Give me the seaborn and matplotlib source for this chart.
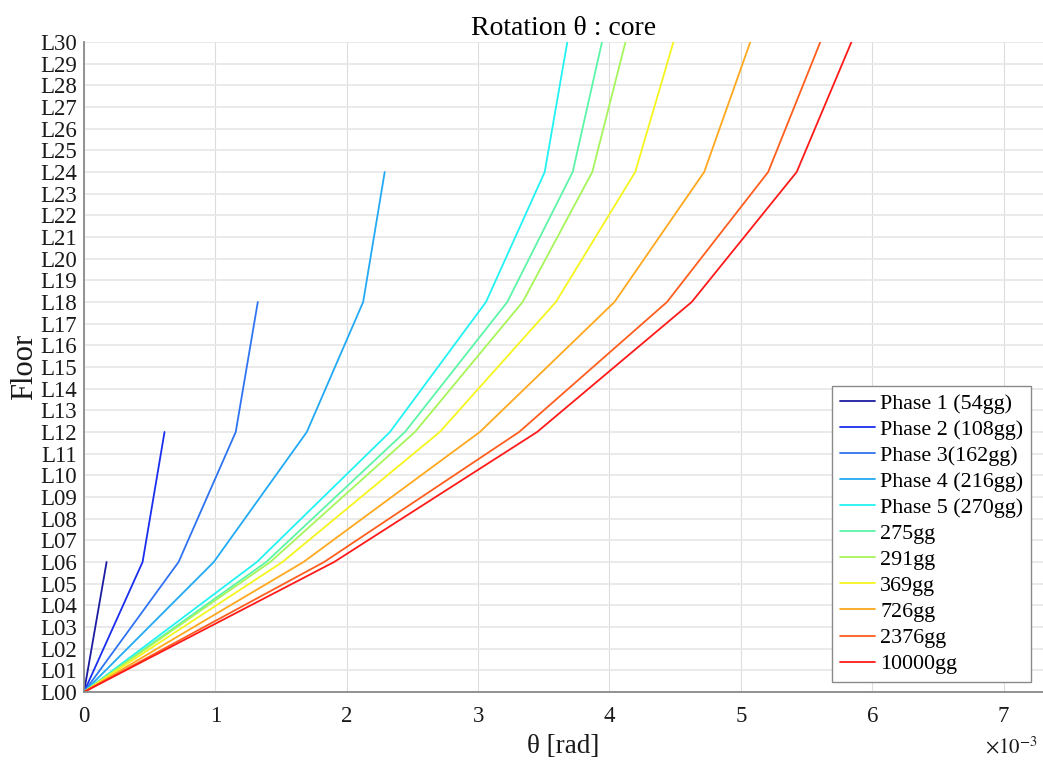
import numpy as np
import pandas as pd
import matplotlib
matplotlib.use("Agg")
import matplotlib.pyplot as plt
import seaborn as sns

# ---- data (theta in units of 1e-3 rad, floors as level index) ----
series_names = ["Phase 1 (54gg)", "Phase 2 (108gg)", "Phase 3(162gg)", "Phase 4 (216gg)",
                "Phase 5 (270gg)", "275gg", "291gg", "369gg", "726gg", "2376gg", "10000gg"]
floor_levels = [0, 6, 12, 18, 24, 30]
phase1 = [0.0, 0.172]
phase2 = [0.0, 0.446, 0.613]
phase3 = [0.0, 0.720, 1.155, 1.323]
phase4 = [0.0, 0.988, 1.696, 2.125, 2.289]
phase5 = [0.0, 1.316, 2.329, 3.060, 3.507, 3.679]
gg275 = [0.0, 1.387, 2.443, 3.222, 3.720, 3.943]
gg291 = [0.0, 1.418, 2.519, 3.339, 3.869, 4.122]
gg369 = [0.0, 1.511, 2.708, 3.592, 4.196, 4.487]
gg726 = [0.0, 1.671, 3.013, 4.038, 4.721, 5.072]
gg2376 = [0.0, 1.828, 3.312, 4.438, 5.208, 5.605]
gg10000 = [0.0, 1.904, 3.449, 4.626, 5.425, 5.842]
floor_labels = [f"L{i:02d}" for i in range(31)]
x_ticks = [0, 1, 2, 3, 4, 5, 6, 7]

colors = ["#1c1ca0", "#1a2ef0", "#2f74f2", "#22aaf5", "#22f2f2", "#5cf5a8",
          "#a6f55a", "#f5f51e", "#ffa81e", "#ff5e1e", "#ff1a1a"]

all_series = [phase1, phase2, phase3, phase4, phase5, gg275, gg291, gg369, gg726, gg2376, gg10000]
rows = []
for name, vals in zip(series_names, all_series):
    for i, v in enumerate(vals):
        rows.append({"series": name, "theta": v, "floor": floor_levels[i], "order": i})
df = pd.DataFrame(rows)

sns.set_theme(style="white")
plt.rcParams["font.family"] = ["Liberation Serif", "DejaVu Serif"]
plt.rcParams["mathtext.fontset"] = "stix"

fig = plt.figure(figsize=(10.43, 7.61), dpi=100)
ax = fig.add_axes([84 / 1043, 1 - 692 / 761, (1043 - 84) / 1043, (692 - 42) / 761])

sns.lineplot(data=df, x="theta", y="floor", hue="series", hue_order=series_names,
             palette=colors, sort=False, estimator=None, units="series",
             linewidth=1.3, ax=ax, legend=True)

ax.set_xlim(0, 7.3)
ax.set_ylim(0, 30)
ax.set_xticks(x_ticks)
ax.set_xticklabels([str(t) for t in x_ticks])
ax.set_yticks(range(31))
ax.set_yticklabels(floor_labels)

ax.grid(True, axis="x", color="#dcdcdc", linewidth=0.8)
ax.grid(True, axis="y", color="#e8e8e8", linewidth=1.3)
ax.set_axisbelow(True)

for s in ["top", "right"]:
    ax.spines[s].set_visible(False)
for s in ["left", "bottom"]:
    ax.spines[s].set_color("#8a8a8a")
    ax.spines[s].set_linewidth(1.3)

ax.tick_params(axis="both", direction="in", length=7, width=1.0, color="#8a8a8a",
               labelsize=16.5, labelcolor="#1a1a1a")
ax.tick_params(axis="y", pad=5.0)
ax.tick_params(axis="x", pad=10)

ax.set_title("Rotation θ : core", fontsize=20, color="black", pad=5)
ax.set_xlabel("θ [rad]", fontsize=19.5, color="#1a1a1a", labelpad=5)
ax.set_ylabel("Floor", fontsize=22, color="#1a1a1a", labelpad=1)

ax.text((1038 - 84) / 959, -0.086, r"$\times 10^{-3}$", transform=ax.transAxes,
        ha="right", va="center", fontsize=15, color="#1a1a1a")

leg = ax.legend(loc="lower right", bbox_to_anchor=(0.9875, 0.0154), borderaxespad=0,
                fontsize=15.8, frameon=True, fancybox=False, framealpha=1,
                edgecolor="#8a8a8a", handlelength=1.6, handletextpad=0.25,
                labelspacing=0.26, borderpad=0.35, title=None)
leg.get_frame().set_linewidth(1.0)
for t in leg.get_texts():
    t.set_color("black")

fig.savefig("out.png", dpi=100)
